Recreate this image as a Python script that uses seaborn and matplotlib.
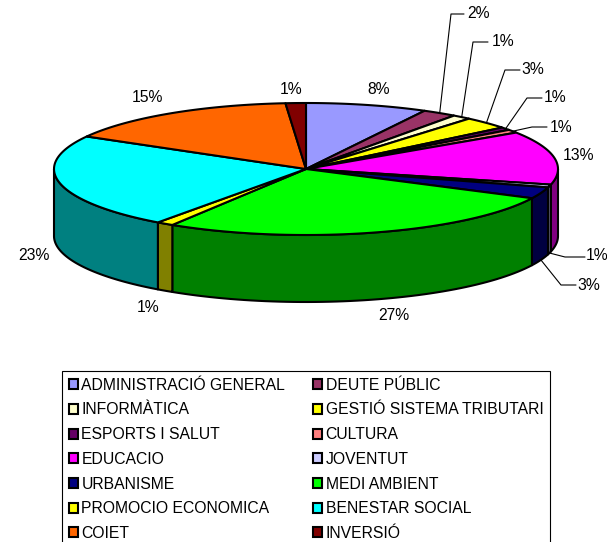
import numpy as np
import matplotlib
matplotlib.use('Agg')
import matplotlib.pyplot as plt
from matplotlib.patches import Patch
import seaborn as sns

categories = ['ADMINISTRACIÓ GENERAL', 'DEUTE PÚBLIC', 'INFORMÀTICA',
              'GESTIÓ SISTEMA TRIBUTARI', 'ESPORTS I SALUT', 'CULTURA',
              'EDUCACIO', 'JOVENTUT', 'URBANISME', 'MEDI AMBIENT',
              'PROMOCIO ECONOMICA', 'BENESTAR SOCIAL', 'COIET', 'INVERSIÓ']
values = [7.8, 2.2, 1.2, 3.0, 0.7, 0.8, 13.1, 0.7, 2.8, 26.6, 1.1, 23.2, 15.5, 1.3]
value_labels = ['8%', '2%', '1%', '3%', '1%', '1%', '13%', '1%', '3%', '27%', '1%', '23%', '15%', '1%']
colors = ['#9999FF', '#993366', '#FFFFCC', '#FFFF00', '#660066', '#FF8080', '#FF00FF',
          '#CCCCFF', '#000080', '#00FF00', '#FFFF00', '#00FFFF', '#FF6600', '#800000']

# layout, in pixels of the 607x542 picture
cx, cy = 306, 169
rx, ry = 252, 66
depth = 67
label_pos = [(379, 90), (479, 14), (503, 42), (533, 70), (555, 98), (561, 127), (579, 155),
             (597, 256), (589, 285), (394, 316), (148, 307), (34, 255), (147, 98), (291, 89)]
# elbow of the leader lines, slice index -> (elbow x, elbow y, end x)
leaders = {1: (451, 14, 464), 2: (473, 42, 488), 3: (505, 70, 520), 4: (527, 98, 542),
           5: (532, 127, 547), 7: (565, 257, 585), 8: (561, 285, 576)}

sns.set_theme(style='white')
plt.rcParams['font.family'] = ['Liberation Sans', 'DejaVu Sans']
plt.rcParams['text.color'] = 'black'
palette = sns.color_palette(colors)

def rim(t, drop=0):
    # t runs clockwise from 12 o'clock, in radians
    t = np.asarray(t)
    return cx + rx * np.sin(t), cy - ry * np.cos(t) + drop

fig = plt.figure(figsize=(6.07, 5.42), dpi=100)
ax = fig.add_axes([0, 0, 1, 1])
ax.set_xlim(0, 607)
ax.set_ylim(542, 0)
ax.axis('off')

edges = np.concatenate([[0], np.cumsum(values)]) / np.sum(values) * 2 * np.pi

# outer wall, only the front half shows
for i, col in enumerate(palette):
    a, b = max(edges[i], np.pi / 2), min(edges[i + 1], 3 * np.pi / 2)
    if b <= a:
        continue
    t = np.linspace(a, b, 60)
    x1, y1 = rim(t)
    x2, y2 = rim(t[::-1], depth)
    side = tuple(c * 0.5 for c in col)
    ax.fill(np.r_[x1, x2], np.r_[y1, y2], facecolor=side, edgecolor='black', lw=1.5, joinstyle='round')

# top of the pie
for i, col in enumerate(palette):
    t = np.linspace(edges[i], edges[i + 1], 60)
    x, y = rim(t)
    ax.fill(np.r_[cx, x], np.r_[cy, y], facecolor=col, edgecolor='black', lw=1.5, joinstyle='round')

# value labels and leader lines
for i, lab in enumerate(value_labels):
    ax.text(label_pos[i][0], label_pos[i][1], lab, ha='center', va='center',
            fontsize=11.3, color='black')
    if i in leaders:
        mid = (edges[i] + edges[i + 1]) / 2
        drop = depth if np.pi / 2 < mid < 3 * np.pi / 2 else 0
        x0, y0 = rim(mid, drop)
        ex, ey, end = leaders[i]
        ax.plot([x0, ex, end], [y0, ey, ey], color='black', lw=0.8)

# legend reads across the rows, matplotlib fills columns
handles = [Patch(facecolor=c, edgecolor='black', lw=1.5) for c in palette]
order = list(range(0, 14, 2)) + list(range(1, 14, 2))
leg = ax.legend([handles[i] for i in order], [categories[i] for i in order],
                ncol=2, loc='upper left',
                bbox_to_anchor=(62 / 607, 1 - 371 / 542), bbox_transform=ax.transAxes,
                fontsize=11.3, frameon=True, fancybox=False, edgecolor='black', framealpha=1,
                borderaxespad=0, borderpad=0.42, labelspacing=0.62, handlelength=0.6,
                handleheight=0.6, handletextpad=0.22, columnspacing=1.74, labelcolor='black')
leg.get_frame().set_linewidth(0.8)

fig.savefig('out.png', dpi=100)
